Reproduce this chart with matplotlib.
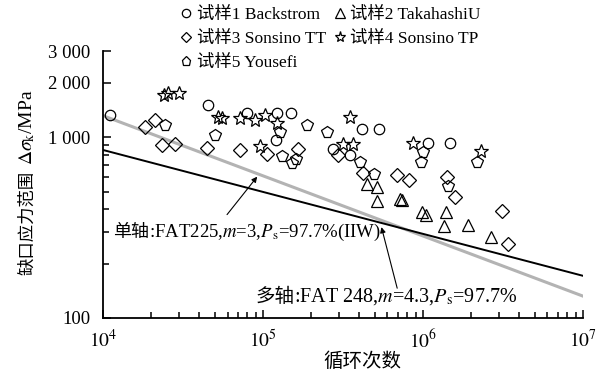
import matplotlib
matplotlib.use("Agg")
import matplotlib.pyplot as plt

plt.rcParams["font.family"] = ["Liberation Serif", "Noto Sans CJK SC", "DejaVu Sans"]
plt.rcParams["mathtext.fontset"] = "stix"

# 试样1 Backstrom (circles)
back_n = [1.1e4, 4.5e4, 7.9e4, 1.22e5, 1.50e5, 1.21e5, 4.16e5, 5.31e5, 2.74e5, 3.50e5, 1.07e6, 1.47e6]
back_s = [1320, 1500, 1370, 1355, 1355, 964, 1107, 1107, 859, 796, 927, 927]

# 试样2 TakahashiU (triangles)
taka_n = [4.47e5, 5.16e5, 5.16e5, 7.18e5, 7.4e5, 9.86e5, 1.04e6, 1.39e6, 1.35e6, 1.91e6, 2.66e6]
taka_s = [552, 531, 445, 456, 450, 387, 373, 387, 324, 328, 282]

# 试样3 Sonsino TT (diamonds)
stt_n = [1.83e4, 2.11e4, 2.34e4, 2.82e4, 4.47e4, 7.18e4, 1.06e5, 1.65e5, 2.94e5, 4.22e5,
         6.88e5, 8.18e5, 1.41e6, 1.58e6, 3.12e6, 3.40e6]
stt_s = [1135, 1239, 904, 915, 871, 849, 807, 859, 796, 634, 618, 581, 603, 468, 392, 258]

# 试样4 Sonsino TP (stars)
stp_n = [2.40e4, 2.55e4, 2.99e4, 5.23e4, 5.54e4, 7.18e4, 8.91e4, 1.03e5, 1.22e5, 9.58e4,
         3.50e5, 3.16e5, 3.65e5, 8.66e5, 2.30e6]
stp_s = [1702, 1746, 1767, 1289, 1275, 1275, 1239, 1321, 1194, 893, 1289, 915, 915, 927, 838]

# 试样5 Yousefi (pentagons)
yous_n = [2.44e4, 5.01e4, 1.28e5, 1.31e5, 1.52e5, 1.61e5, 1.88e5, 2.51e5, 4.04e5, 4.94e5,
          1.0e6, 9.72e5, 2.18e6, 1.43e6]
yous_s = [1164, 1026, 1065, 787, 719, 757, 1164, 1065, 729, 626, 828, 729, 729, 538]

# design curves (end points)
line_n = [1e4, 1e7]
fat225_s = [1316, 132]   # m=3, uniaxial (IIW)
fat248_s = [850, 171]    # m=4.3, multiaxial

fig = plt.figure(figsize=(6.11, 3.74), dpi=100)
ax = fig.add_axes([0.1686, 0.150, 0.7855, 0.7136])

ax.plot(line_n, fat225_s, color="#b3b3b3", lw=2.2, zorder=1)
ax.plot(line_n, fat248_s, color="black", lw=1.4, zorder=1)

mk = dict(ls="none", mfc="none", mec="black", mew=0.9)
h1, = ax.plot(back_n, back_s, marker="o", ms=7.5, **mk)
h2, = ax.plot(taka_n, taka_s, marker="^", ms=8.5, **mk)
h3, = ax.plot(stt_n, stt_s, marker="D", ms=7, **mk)
h4, = ax.plot(stp_n, stp_s, marker="*", ms=10, **mk)
h5, = ax.plot(yous_n, yous_s, marker="p", ms=8.5, **mk)

ax.set_xscale("log")
ax.set_yscale("log")
ax.set_xlim(1e4, 1e7)
ax.set_ylim(100, 3000)

ax.set_yticks([100, 1000, 2000, 3000])
ax.set_yticklabels(["100", "1 000", "2 000", "3 000"])
ax.set_yticks([200, 300, 400, 500, 600, 700, 800, 900], minor=True)
ax.yaxis.set_minor_formatter(matplotlib.ticker.NullFormatter())
ax.set_xticks([1e4, 1e5, 1e6, 1e7])
ax.set_xticklabels(["$10^4$", "$10^5$", "$10^6$", "$10^7$"])

for s in ["top", "right"]:
    ax.spines[s].set_visible(False)
for s in ["left", "bottom"]:
    ax.spines[s].set_linewidth(1.3)

ax.tick_params(which="both", direction="in", width=1.1)
ax.tick_params(which="major", length=6)
ax.tick_params(which="minor", length=4)
ax.tick_params(axis="y", labelsize=13.5, pad=9)
ax.tick_params(axis="x", labelsize=14, pad=8)

ax.set_xlabel("循环次数", fontsize=14, labelpad=2)
ax.xaxis.set_label_coords(0.54, -0.13)

# y label: Chinese part, then the math part stacked above it
yl1 = fig.text(0.053, 0.265, "缺口应力范围", fontsize=12.5, rotation=90,
               rotation_mode="anchor", ha="left", va="baseline")
ax.annotate("$\\Delta\\sigma_{\\rm k}$/MPa", xy=(0.053, 1), xycoords=("figure fraction", yl1),
            xytext=(0, 4), textcoords="offset points", fontsize=14, rotation=90,
            rotation_mode="anchor", ha="left", va="baseline", annotation_clip=False)


def label(x, y, cjk, rest, size=13.5):
    t1 = ax.text(x, y, cjk, transform=ax.transAxes, fontsize=size - 0.5,
                 ha="left", va="baseline")
    ax.annotate(rest, xy=(1, y), xycoords=(t1, "axes fraction"), fontsize=size,
                ha="left", va="baseline", annotation_clip=False)


label(0.021, 0.303, "单轴", ":FAT225,$m$=3,$P_{\\rm s}$=97.7%(IIW)")
label(0.317, 0.060, "多轴", ":FAT 248,$m$=4.3,$P_{\\rm s}$=97.7%", size=14.5)

arrow = dict(arrowstyle="-|>", color="black", lw=0.8, mutation_scale=8,
             shrinkA=0, shrinkB=0)
ax.annotate("", xy=(9.2e4, 605), xytext=(5.96e4, 373), arrowprops=arrow)
ax.annotate("", xy=(5.5e5, 318), xytext=(6.9e5, 146), arrowprops=arrow)

fig.legend([h1, h3, h5, h2, h4],
           ["试样1 Backstrom", "试样3 Sonsino TT", "试样5 Yousefi",
            "试样2 TakahashiU", "试样4 Sonsino TP"],
           ncol=2, loc="upper left", bbox_to_anchor=(0.274, 1.015), frameon=False,
           fontsize=12.5, handlelength=0.75, handletextpad=0.25, columnspacing=0.4,
           labelspacing=0.45, borderpad=0.2, markerscale=0.8)

fig.savefig("out.png", dpi=100)
